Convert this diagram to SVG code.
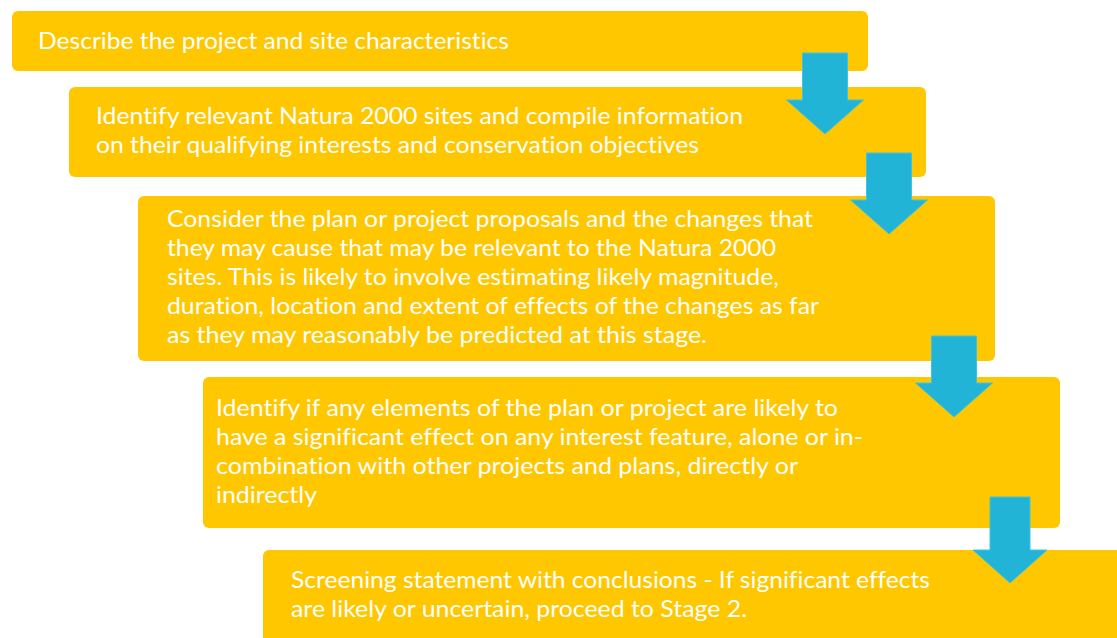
<svg xmlns="http://www.w3.org/2000/svg" width="1117" height="638" viewBox="0 0 1117 638">
<style>
.box{fill:#FFC700;}
.t{font-family:Lato,"Open Sans","Liberation Sans",sans-serif;font-size:24px;fill:#FFFFFF;font-variant-ligatures:none;}
.arrow{fill:#22B4D6;stroke:#3CC3E4;stroke-width:1;}
</style>
<defs>
<polygon id="arr" points="-22.5,0 22.5,0 22.5,47 38.5,47 0,81 -38.5,47 -22.5,47"/>
</defs>
<rect width="1117" height="638" fill="#FFFFFF"/>
<g id="node1">
<rect class="box" x="12" y="11" width="856" height="60" rx="6"/>
<text class="t" x="38" y="49" textLength="471" lengthAdjust="spacingAndGlyphs">Describe the project and site characteristics</text>
</g>
<g id="node2">
<rect class="box" x="69" y="87" width="857" height="90" rx="6"/>
<text class="t" x="96" y="124" textLength="647" lengthAdjust="spacingAndGlyphs">Identify relevant Natura 2000 sites and compile information</text>
<text class="t" x="96" y="153" textLength="603" lengthAdjust="spacingAndGlyphs">on their qualifying interests and conservation objectives</text>
</g>
<g id="node3">
<rect class="box" x="138" y="196" width="857" height="165" rx="6"/>
<text class="t" x="167" y="227" textLength="646" lengthAdjust="spacingAndGlyphs">Consider the plan or project proposals and the changes that</text>
<text class="t" x="167" y="256" textLength="609" lengthAdjust="spacingAndGlyphs">they may cause that may be relevant to the Natura 2000</text>
<text class="t" x="167" y="285" textLength="612" lengthAdjust="spacingAndGlyphs">sites. This is likely to involve estimating likely magnitude,</text>
<text class="t" x="167" y="314" textLength="652" lengthAdjust="spacingAndGlyphs">duration, location and extent of effects of the changes as far</text>
<text class="t" x="167" y="343" textLength="540" lengthAdjust="spacingAndGlyphs">as they may reasonably be predicted at this stage.</text>
</g>
<g id="node4">
<rect class="box" x="203" y="377" width="857" height="151" rx="6"/>
<text class="t" x="216" y="416" textLength="622" lengthAdjust="spacingAndGlyphs">Identify if any elements of the plan or project are likely to</text>
<text class="t" x="216" y="445" textLength="647" lengthAdjust="spacingAndGlyphs">have a significant effect on any interest feature, alone or in-</text>
<text class="t" x="216" y="474" textLength="582" lengthAdjust="spacingAndGlyphs">combination with other projects and plans, directly or</text>
<text class="t" x="216" y="503" textLength="101" lengthAdjust="spacingAndGlyphs">indirectly</text>
</g>
<g id="node5">
<rect class="box" x="263" y="550" width="870" height="100" rx="6"/>
<text class="t" x="291" y="588" textLength="639" lengthAdjust="spacingAndGlyphs">Screening statement with conclusions - If significant effects</text>
<text class="t" x="291" y="617" textLength="456" lengthAdjust="spacingAndGlyphs">are likely or uncertain, proceed to Stage 2.</text>
</g>
<g id="connectors">
<use href="#arr" class="arrow" transform="translate(825,53)"/>
<use href="#arr" class="arrow" transform="translate(889,153)"/>
<use href="#arr" class="arrow" transform="translate(954,336)"/>
<polygon class="arrow" points="990,497 1030,497 1030,550 1047,550 1010,583 973,550 990,550"/>
</g>
</svg>
